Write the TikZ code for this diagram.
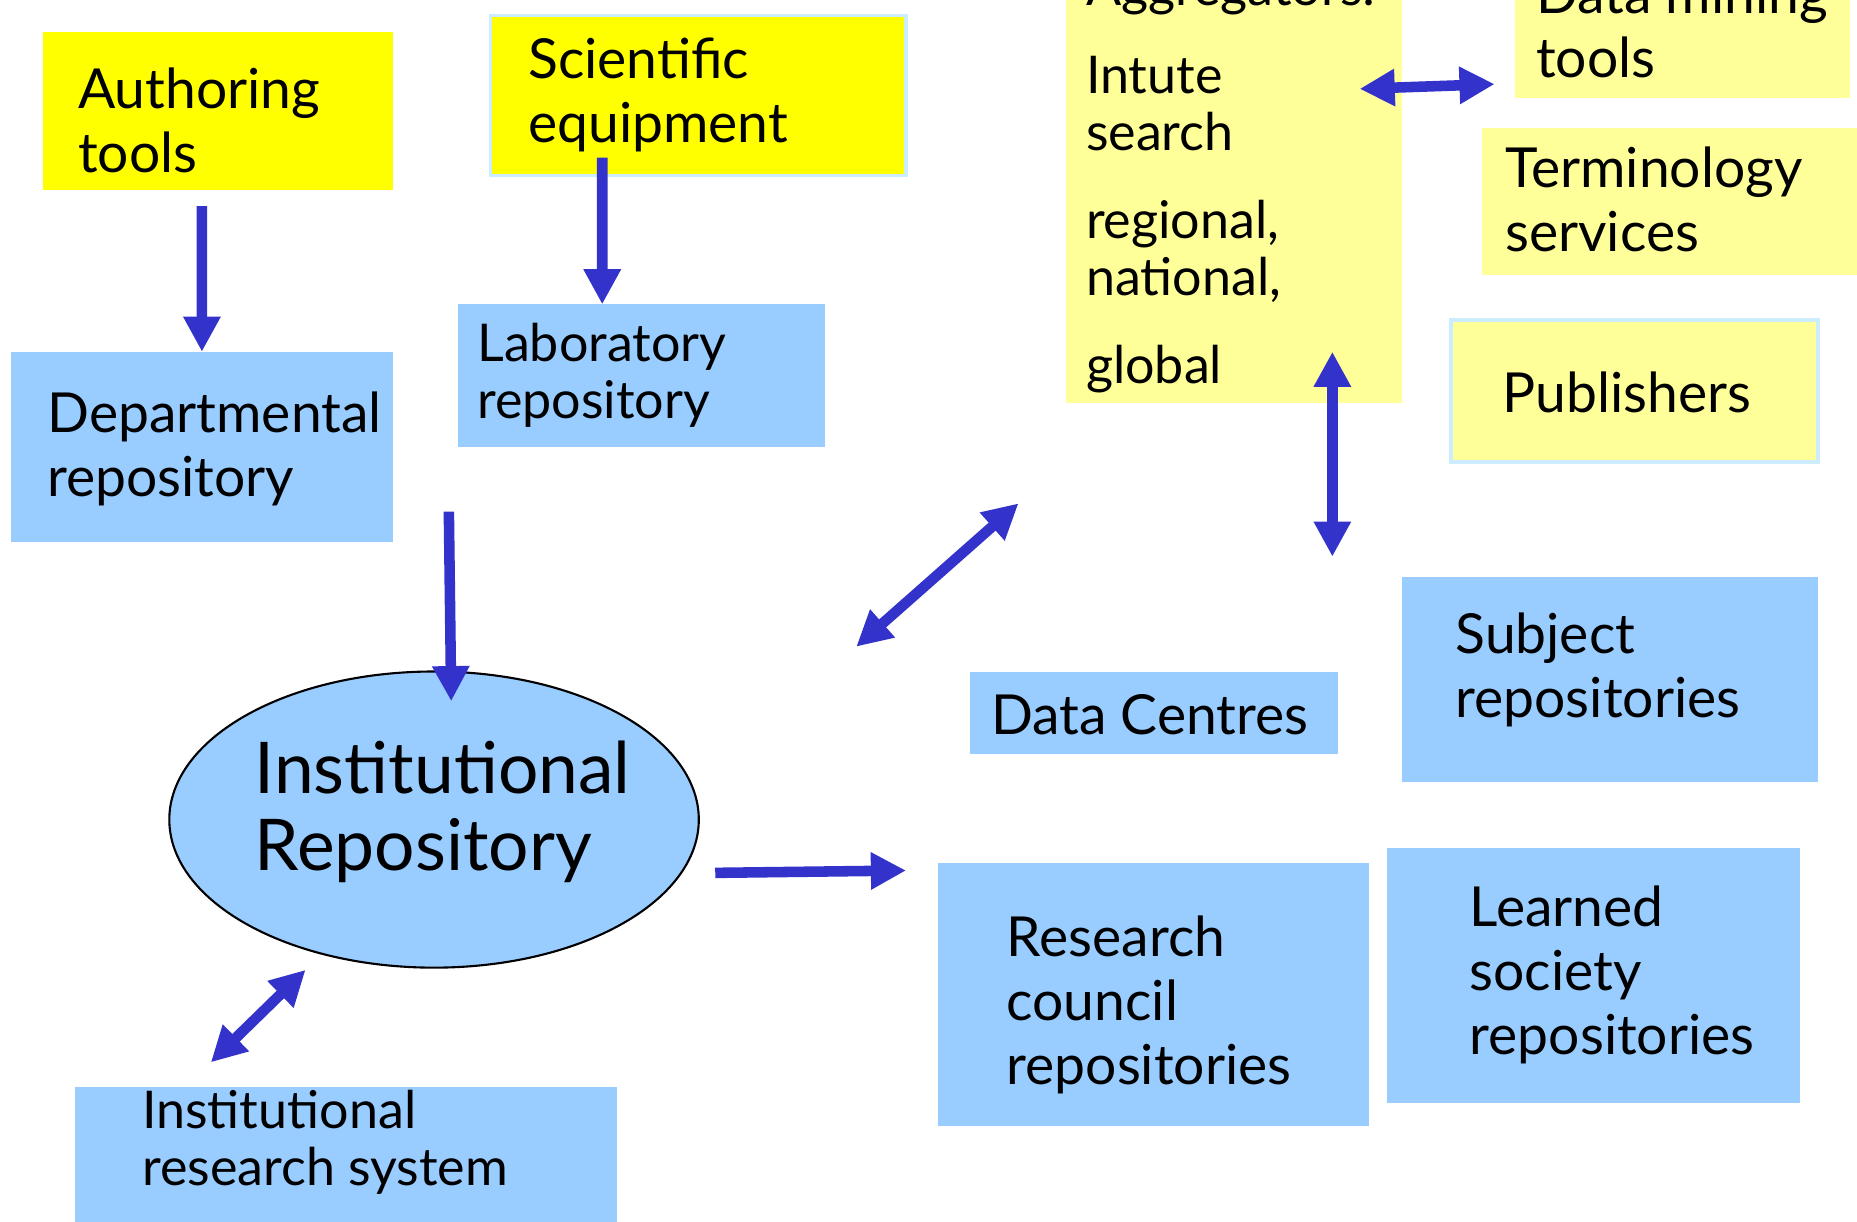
\documentclass[tikz,border=0pt]{standalone}
\usepackage{fontspec}
\newfontfamily\cfont{Lato}
\usetikzlibrary{arrows.meta,fit,shapes.geometric,calc}
\definecolor{yel}{HTML}{FFFF00}
\definecolor{lyel}{HTML}{FFFF99}
\definecolor{lblue}{HTML}{99CCFF}
\definecolor{arrblue}{HTML}{3333CC}
\definecolor{edgec}{HTML}{CCECFF}
\newcommand\lns[1]{\begin{tabular}[t]{@{}l@{}}#1\end{tabular}}
\begin{document}
\begin{tikzpicture}[x=0.011843cm,y=-0.011843cm,
  box/.style={inner sep=0pt, outer sep=0pt, draw=none},
  txtS/.style={inner sep=0pt, outer sep=0pt, anchor=base west, font=\cfont\fontsize{14.8}{16.2}\selectfont},
  txtM/.style={inner sep=0pt, outer sep=0pt, anchor=base west, font=\cfont\fontsize{15.7}{18.2}\selectfont},
  txtL/.style={inner sep=0pt, outer sep=0pt, anchor=base west, font=\cfont\fontsize{20.3}{21.9}\selectfont},
  tip/.tip={Triangle[length=10pt,width=10pt]},
  arr/.style={draw=arrblue, line width=3pt, -tip},
  darr/.style={draw=arrblue, line width=3pt, tip-tip},
]
\useasboundingbox (0,0) rectangle (1568,1031);
% boxes
\node[box, fill=yel, fit={(36,27)(332,160)}] (auth) {};
\node[box, fill=yel, draw=edgec, line width=1pt, fit={(414,13)(765,148)}] (sci) {};
\node[box, fill=lyel, fit={(900,-5)(1184,340)}] (aggr) {};
\node[box, fill=lyel, fit={(1279,-5)(1562,83)}] (dmt) {};
\node[box, fill=lyel, fit={(1251,108)(1575,232)}] (term) {};
\node[box, fill=lyel, draw=edgec, line width=1pt, fit={(1225,270)(1535,390)}] (pub) {};
\node[box, fill=lblue, fit={(9,297)(332,458)}] (dept) {};
\node[box, fill=lblue, fit={(387,257)(697,377)}] (lab) {};
\node[box, fill=lblue, fit={(819,567)(1130,637)}] (dc) {};
\node[box, fill=lblue, fit={(1184,487)(1535,660)}] (subj) {};
\node[box, fill=lblue, fit={(792,729)(1156,951)}] (rcr) {};
\node[box, fill=lblue, fit={(1171,716)(1520,931)}] (lsr) {};
\node[box, fill=lblue, fit={(63,918)(521,1040)}] (irs) {};
\node[ellipse, draw=black, line width=0.6pt, fill=lblue, inner sep=0pt,
  minimum width=5.2938cm, minimum height=2.9608cm] (ir) at (366.5,692) {};
% texts
\node[txtM] (authT) at (66,92) {\lns{Authoring\\tools}};
\node[txtM] (sciT) at (446,66) {\lns{Scientific\\equipment}};
\node[txtS] (aggrT) at (917,5) {\lns{Aggregators:\\[8.8pt]Intute\\search\\[8.8pt]regional,\\national,\\[8.8pt]global}};
\node[txtM] (dmtT) at (1297,11) {\lns{Data mining\\tools}};
\node[txtM] (termT) at (1271,158) {\lns{Terminology\\services}};
\node[txtM] (pubT) at (1269,348) {Publishers};
\node[txtM] (deptT) at (40,365) {\lns{Departmental\\repository}};
\node[txtS] (labT) at (403,305) {\lns{Laboratory\\repository}};
\node[txtL] (irT) at (215,670) {\lns{Institutional\\Repository}};
\node[txtM] (dcT) at (837,620) {Data Centres};
\node[txtM] (subjT) at (1229,552) {\lns{Subject\\repositories}};
\node[txtM] (rcrT) at (850,808) {\lns{Research\\council\\repositories}};
\node[txtM] (lsrT) at (1241,782) {\lns{Learned\\society\\repositories}};
\node[txtS] (irsT) at (120,953) {\lns{Institutional\\research system}};
% connectors
\draw[arr] ($(auth.south)+(-13.5,14)$) -- (dept.north);
\draw[arr] ($(sci.south)+(-81,-15)$) -- ($(lab.north)+(-33.5,0)$);
\draw[arr] ($(dept.east)+(47,54.5)$) -- ($(ir.north)+(14.5,26)$);
\draw[arr] ($(ir.east)+(13,45)$) -- ($(rcr.west)+(-27,-105)$);
\draw[darr] ($(irs.north)+(-114,-21)$) -- ($(ir.south)+(-108.5,1)$);
\draw[darr] ($(dc.north west)+(-96,-21)$) -- ($(aggr.south west)+(-40,85)$);
\draw[darr] ($(aggr.south)+(83,-43)$) -- ($(subj.north)+(-234.5,-17)$);
\draw[darr] ($(aggr.east)+(-36,-92.5)$) -- ($(dmt.west)+(-17,32)$);
\end{tikzpicture}
\end{document}
